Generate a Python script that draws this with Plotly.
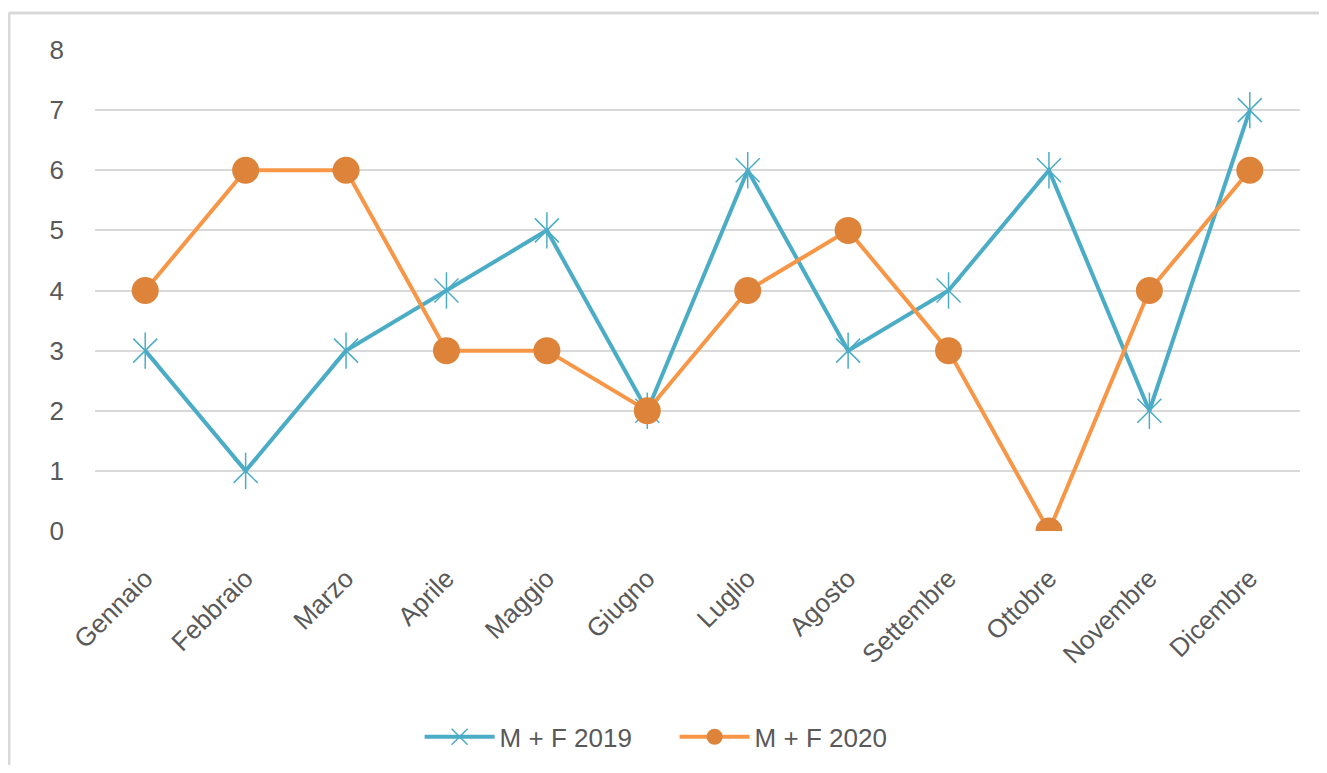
import plotly.graph_objects as go

months = ["Gennaio", "Febbraio", "Marzo", "Aprile", "Maggio", "Giugno",
          "Luglio", "Agosto", "Settembre", "Ottobre", "Novembre", "Dicembre"]
v2019 = [3, 1, 3, 4, 5, 2, 6, 3, 4, 6, 2, 7]
v2020 = [4, 6, 6, 3, 3, 2, 4, 5, 3, 0, 4, 6]
yticks = [0, 1, 2, 3, 4, 5, 6, 7, 8]

teal = "#4BACC6"
orange = "#F79646"

fig = go.Figure()
fig.add_trace(go.Scatter(
    x=months, y=v2019, name="M + F 2019", mode="lines+markers",
    legendgroup="a",
    line=dict(color=teal, width=4),
    marker=dict(symbol="x-thin-open", size=24, color=teal,
                line=dict(color=teal, width=1.5)),
))
fig.add_trace(go.Scatter(
    x=months, y=v2019, name="M + F 2019", mode="markers",
    legendgroup="a", showlegend=False,
    marker=dict(symbol="line-ns-open", size=26, color=teal,
                line=dict(color=teal, width=1.5)),
))
fig.add_trace(go.Scatter(
    x=months, y=v2020, name="M + F 2020", mode="lines+markers",
    line=dict(color=orange, width=4),
    marker=dict(symbol="circle", size=27, color="#DE843A",
                line=dict(width=0)),
))

font_color = "#595959"
fig.update_layout(
    width=1311, height=757,
    paper_bgcolor="white", plot_bgcolor="white",
    margin=dict(l=87, r=19, t=42, b=234, autoexpand=False),
    font=dict(family="Liberation Sans, Arial, sans-serif", size=26, color=font_color),
    xaxis=dict(range=[-0.5, 11.5], tickangle=-45, showgrid=False, zeroline=False,
               showline=False, ticks="", automargin=False, ticklabelstandoff=26,
               tickfont=dict(size=26, color=font_color)),
    yaxis=dict(range=[0, 8], tickvals=yticks, showgrid=True, gridcolor="#D9D9D9",
               gridwidth=1.5, zeroline=False, showline=False, ticks="",
               automargin=False, ticklabelstandoff=30,
               tickfont=dict(size=26, color=font_color)),
    legend=dict(orientation="h", x=0.481, xanchor="center", y=-0.428, yanchor="middle",
                font=dict(size=26, color=font_color), itemwidth=70,
                entrywidth=170, traceorder="normal"),
    shapes=[
        dict(type="line", xref="paper", yref="paper", x0=-0.0718, x1=1.03,
             y0=1.077, y1=1.077, line=dict(color="#D9D9D9", width=3)),
        dict(type="line", xref="paper", yref="paper", x0=-0.0718, x1=-0.0718,
             y0=1.077, y1=-0.6, line=dict(color="#D9D9D9", width=4)),
    ],
)
fig.write_html("out.html")
